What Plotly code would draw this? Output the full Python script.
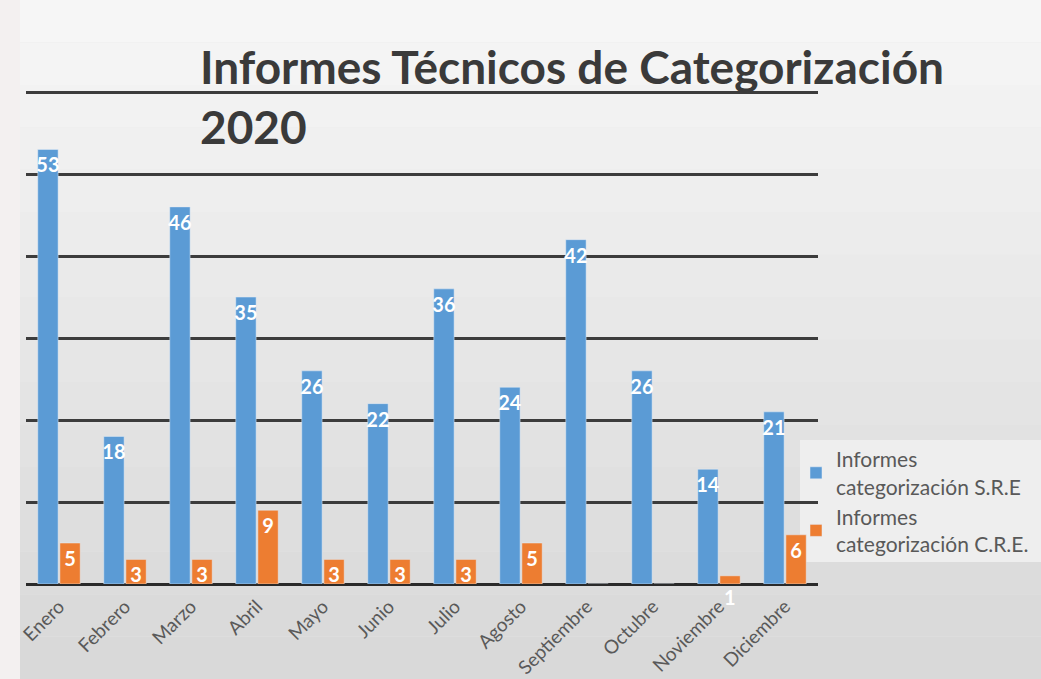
import plotly.graph_objects as go

months = ["Enero", "Febrero", "Marzo", "Abril", "Mayo", "Junio", "Julio",
          "Agosto", "Septiembre", "Octubre", "Noviembre", "Diciembre"]
sre = [53, 18, 46, 35, 26, 22, 36, 24, 42, 26, 14, 21]
cre = [5, 3, 3, 9, 3, 3, 3, 5, 0, 0, 1, 6]
name_sre = "Informes<br>categorización S.R.E"
name_cre = "Informes<br>categorización C.R.E."
title_text = "Informes Técnicos de Categorización<br>2020"

W, H = 1041, 679
FONT = "Lato"
L, R, T, B = 26, 223, 88, 95
PW, PH = W - L - R, H - T - B
LABEL_FONT = dict(family=FONT, size=20, color="white", weight="bold")

def labels(vals):
    return [str(v) if v > 1 else "" for v in vals]

fig = go.Figure()
for vals, nm, col in [(sre, name_sre, "#5b9bd5"), (cre, name_cre, "#ed7d31")]:
    fig.add_trace(go.Bar(
        x=months, y=vals, name=nm, marker_color=col,
        text=labels(vals), textposition="inside", insidetextanchor="end",
        constraintext="none", textangle=0, textfont=LABEL_FONT,
    ))

# tiny bars: label drawn just below the baseline
annotations = []
for m, v in zip(months, cre):
    if v == 1:
        annotations.append(dict(x=m, y=0, xref="x", yref="y", text=str(v),
                                showarrow=False, xshift=11, yshift=-13,
                                font=LABEL_FONT))

def px_x(p):
    return (p - L) / PW

def px_y(p):
    return (H - B - p) / PH

# background gradient bands
shapes = []
n = 16
top_c = (246, 246, 246)
bot_c = (217, 217, 217)
for i in range(n):
    t = i / (n - 1)
    c = tuple(int(top_c[k] + (bot_c[k] - top_c[k]) * t) for k in range(3))
    shapes.append(dict(type="rect", xref="paper", yref="paper", layer="below",
                       x0=px_x(0), x1=px_x(W), y0=px_y((i + 1) * H / n), y1=px_y(i * H / n),
                       fillcolor="rgb(%d,%d,%d)" % c, line_width=0))
# light strip at left edge
shapes.append(dict(type="rect", xref="paper", yref="paper", layer="below",
                   x0=px_x(0), x1=px_x(20), y0=px_y(H), y1=px_y(0),
                   fillcolor="#f3f0f0", line_width=0))
# legend box
shapes.append(dict(type="rect", xref="paper", yref="paper", layer="below",
                   x0=px_x(800), x1=px_x(W), y0=px_y(562), y1=px_y(440),
                   fillcolor="#eeeeee", line_width=0))

fig.update_layout(
    width=W, height=H,
    margin=dict(l=L, r=R, t=T, b=B, autoexpand=False),
    paper_bgcolor="#e8e8e8", plot_bgcolor="rgba(0,0,0,0)",
    shapes=shapes, annotations=annotations,
    barmode="group", bargap=0.33, bargroupgap=0.08,
    title=dict(text=title_text, x=200 / W, xanchor="left", xref="container",
               y=1 - 84 / H, yanchor="top", yref="container",
               font=dict(family=FONT, size=46, color="#3a3a3a", weight="bold")),
    xaxis=dict(tickangle=-45, tickfont=dict(family=FONT, size=19, color="#595959"),
               showgrid=False, ticks="outside", ticklen=3, tickcolor="rgba(0,0,0,0)",
               showline=False, automargin=False),
    yaxis=dict(range=[0, 60.5], tickvals=[10, 20, 30, 40, 50, 60], showticklabels=False,
               showgrid=True, gridcolor="#3c3c3c", gridwidth=2.5, zeroline=True,
               zerolinecolor="#2a2a2a", zerolinewidth=3, automargin=False),
    legend=dict(x=px_x(796), y=px_y(439), xanchor="left", yanchor="top",
                font=dict(family=FONT, size=21, color="#595959"),
                bgcolor="rgba(0,0,0,0)", tracegroupgap=0, itemwidth=30),
)

fig.write_html("out.html", config={"displayModeBar": False},
               post_script="document.body.style.margin='0';document.body.style.overflow='hidden';")
